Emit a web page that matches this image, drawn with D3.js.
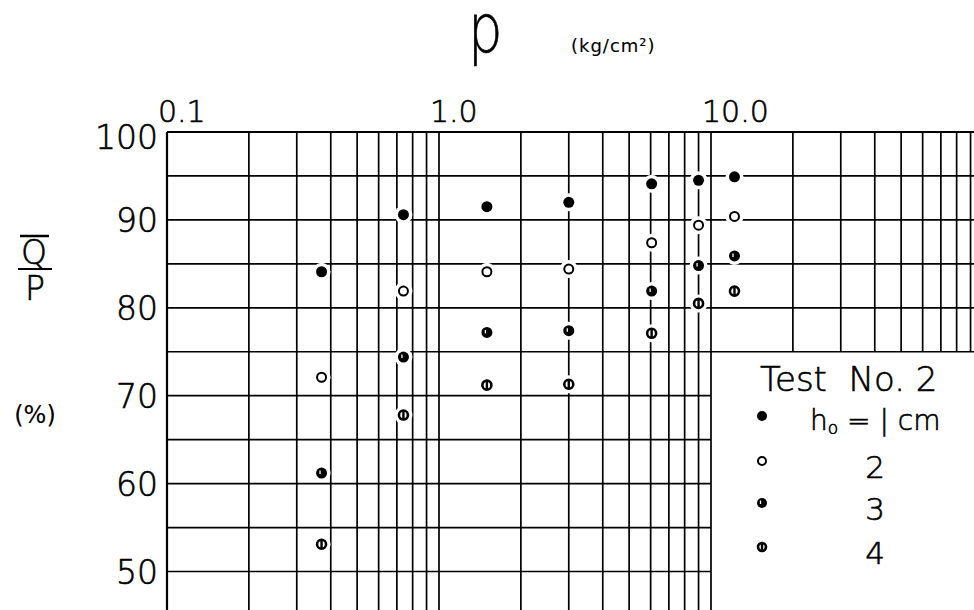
<!DOCTYPE html>
<html>
<head>
<meta charset="utf-8">
<script src="https://cdn.jsdelivr.net/npm/d3@7"></script>
<style>
  body { margin: 0; background: #fff; }
  svg text { font-family: "DejaVu Sans", sans-serif; font-weight: 200; fill: #000; stroke: #000; stroke-width: 0.6; }
  svg text.plain { font-weight: 400; stroke-width: 0.1; }
</style>
</head>
<body>
<script>
// pressure p (kg/cm2) for each column of points
var pressure = [0.37, 0.74, 1.5, 3.0, 6.05, 9.0, 12.2];
// Q/P (%) for each initial height h0
var h1 = [84.1, 90.6, 91.5, 92.0, 94.1, 94.5, 94.9];
var h2 = [72.1, 81.9, 84.1, 84.4, 87.4, 89.4, 90.4];
var h3 = [61.2, 74.4, 77.2, 77.4, 81.9, 84.8, 85.9];
var h4 = [53.1, 67.8, 71.2, 71.3, 77.1, 80.5, 81.9];
var xTickLabels = [0.1, 1.0, 10.0];
var yTickLabels = [50, 60, 70, 80, 90, 100];
var legendLabels = ["1 cm", "2", "3", "4"];

var width = 974, height = 610;

var svg = d3.select("body").append("svg")
    .attr("width", width)
    .attr("height", height);

var x = d3.scaleLog().domain([0.1, 100]).range([167, 983]);
var y = d3.scaleLinear().domain([50, 100]).range([571.5, 132]);

// legend box corner (grid is left open there)
var boxX = x(10), boxY = y(75);

var grid = svg.append("g")
    .attr("stroke", "#000")
    .attr("stroke-width", 1.7);

// vertical grid lines
grid.selectAll("line.v")
    .data(x.ticks().filter(function(d) { return x(d) < width; }))
    .enter().append("line")
    .attr("class", "v")
    .attr("x1", function(d) { return x(d); })
    .attr("x2", function(d) { return x(d); })
    .attr("y1", y(100))
    .attr("y2", function(d) { return d > 10.5 ? boxY : height; });

// horizontal grid lines
grid.selectAll("line.h")
    .data(d3.range(50, 101, 5))
    .enter().append("line")
    .attr("class", "h")
    .attr("x1", x(0.1))
    .attr("x2", function(d) { return d < 75 ? boxX : width; })
    .attr("y1", function(d) { return y(d); })
    .attr("y2", function(d) { return y(d); });

// thicker outline on top and left
svg.append("line").attr("x1", x(0.1)).attr("x2", width)
    .attr("y1", y(100)).attr("y2", y(100))
    .attr("stroke", "#000").attr("stroke-width", 2.2);
svg.append("line").attr("x1", x(0.1)).attr("x2", x(0.1))
    .attr("y1", y(100)).attr("y2", height)
    .attr("stroke", "#000").attr("stroke-width", 2.2);

// axis labels
svg.selectAll("text.xt")
    .data(xTickLabels)
    .enter().append("text")
    .attr("class", "xt")
    .attr("x", function(d) { return x(d) - 9; })
    .attr("y", 122)
    .attr("font-size", 30)
    .text(function(d) { return d.toFixed(1); });

svg.selectAll("text.yt")
    .data(yTickLabels)
    .enter().append("text")
    .attr("class", "yt")
    .attr("x", 158)
    .attr("y", function(d) { return y(d) + (d == 100 ? 17 : 12); })
    .attr("text-anchor", "end")
    .attr("font-size", 33)
    .text(function(d) { return d; });

// title p (kg/cm2)
svg.append("text")
    .attr("transform", "translate(468,52) scale(0.8,1)")
    .attr("font-size", 68)
    .text("p");
svg.append("text")
    .attr("class", "plain")
    .attr("x", 571).attr("y", 52)
    .attr("font-size", 18)
    .attr("letter-spacing", 1)
    .text("(kg/cm\u00b2)");

// y label Q/P (%)
svg.append("line").attr("x1", 20).attr("x2", 49).attr("y1", 236).attr("y2", 236)
    .attr("stroke", "#000").attr("stroke-width", 2.5);
svg.append("text").attr("x", 34).attr("y", 264).attr("text-anchor", "middle")
    .attr("font-size", 33).text("Q");
svg.append("line").attr("x1", 18).attr("x2", 52).attr("y1", 269).attr("y2", 269)
    .attr("stroke", "#000").attr("stroke-width", 2);
svg.append("text").attr("x", 35).attr("y", 300).attr("text-anchor", "middle")
    .attr("font-size", 33).text("P");
svg.append("text").attr("class", "plain").attr("x", 35).attr("y", 423).attr("text-anchor", "middle")
    .attr("font-size", 24).text("(%)");

// markers
function drawMarker(g, type, r) {
    if (type == 0) {
        g.append("circle").attr("r", r).attr("fill", "#000");
    } else if (type == 1) {
        g.append("circle").attr("r", r - 1).attr("fill", "#fff")
            .attr("stroke", "#000").attr("stroke-width", 2);
    } else if (type == 2) {
        g.append("circle").attr("r", r).attr("fill", "#000");
        g.append("line").attr("x1", -1.5).attr("x2", -1.5).attr("y1", -2.5).attr("y2", 1)
            .attr("stroke", "#fff").attr("stroke-width", 1.3);
    } else {
        g.append("circle").attr("r", r - 1).attr("fill", "#fff")
            .attr("stroke", "#000").attr("stroke-width", 2.6);
        g.append("line").attr("x1", 0).attr("x2", 0).attr("y1", -r + 1).attr("y2", r - 1)
            .attr("stroke", "#000").attr("stroke-width", 2.4);
    }
}

var series = [h1, h2, h3, h4];
var points = [];
series.forEach(function(s, k) {
    s.forEach(function(v, i) { points.push({p: pressure[i], v: v, type: k}); });
});

var pts = svg.selectAll("g.pt")
    .data(points)
    .enter().append("g")
    .attr("class", "pt")
    .attr("transform", function(d) { return "translate(" + x(d.p) + "," + y(d.v) + ")"; });
pts.append("circle").attr("r", 9).attr("fill", "#fff");
pts.each(function(d) { drawMarker(d3.select(this), d.type, 5.5); });

// legend
svg.append("text")
    .attr("x", 760).attr("y", 391)
    .attr("font-size", 34)
    .attr("xml:space", "preserve")
    .text("Test  No. 2");

var legendY = [416, 461, 503, 547];
var leg = svg.selectAll("g.leg")
    .data(legendLabels)
    .enter().append("g")
    .attr("class", "leg")
    .attr("transform", function(d, i) { return "translate(762," + legendY[i] + ")"; });
leg.each(function(d, i) { drawMarker(d3.select(this), i, 5); });
leg.each(function(d, i) {
    var t = d3.select(this).append("text")
        .attr("font-size", i == 0 ? 28 : 31);
    if (i == 0) {
        t.attr("x", 48).attr("y", 14).attr("xml:space", "preserve");
        t.append("tspan").text("h");
        t.append("tspan").attr("font-size", 17).attr("dy", 4).text("o");
        t.append("tspan").attr("dy", -4).text(" = " + d.replace("1", "|"));
    } else {
        t.attr("x", 113).attr("y", 17).attr("text-anchor", "middle").text(d);
    }
});
</script>
</body>
</html>
